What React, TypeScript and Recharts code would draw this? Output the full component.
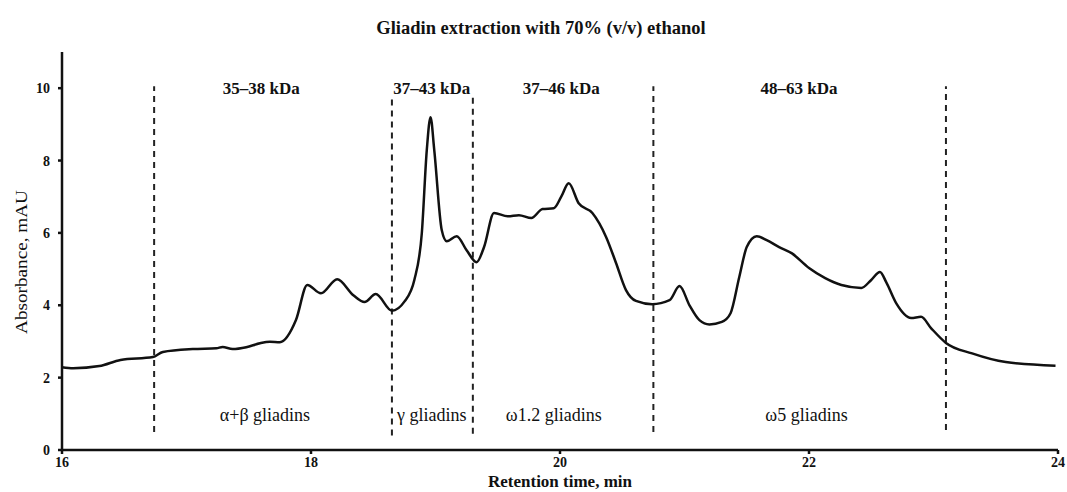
import { LineChart, Line, XAxis, YAxis, ReferenceLine, ReferenceDot } from 'recharts';

// retention time (min) and absorbance (mAU)
const times = [
  16.0, 16.09, 16.3, 16.47, 16.73, 16.81, 17.05, 17.24, 17.29, 17.37, 17.48, 17.59, 17.67, 17.75,
  17.88, 17.97, 18.08, 18.21, 18.34, 18.43, 18.52, 18.65, 18.75, 18.83, 18.89, 18.93, 18.96, 18.99,
  19.05, 19.09, 19.17, 19.25, 19.33, 19.39, 19.47, 19.58, 19.67, 19.77, 19.86, 19.95, 20.01, 20.07,
  20.15, 20.26, 20.37, 20.45, 20.53, 20.61, 20.74, 20.88, 20.96, 21.04, 21.12, 21.2, 21.3, 21.37,
  21.44, 21.5, 21.58, 21.66, 21.76, 21.86, 22.0, 22.13, 22.26, 22.42, 22.5, 22.57, 22.62, 22.7,
  22.82, 22.9, 22.98, 23.1, 23.31, 23.58, 23.98,
];
const absorbance = [
  2.29, 2.26, 2.32, 2.49, 2.57, 2.71, 2.79, 2.81, 2.85, 2.79, 2.84, 2.95, 2.99, 2.98,
  3.6, 4.56, 4.33, 4.72, 4.28, 4.09, 4.31, 3.85, 4.1, 4.7, 5.99, 8.29, 9.2, 8.29,
  6.08, 5.77, 5.91, 5.52, 5.19, 5.61, 6.55, 6.46, 6.49, 6.41, 6.66, 6.68, 7.0, 7.37,
  6.82, 6.55, 5.89, 5.17, 4.42, 4.12, 4.03, 4.14, 4.53, 4.0, 3.59, 3.47, 3.54, 3.78,
  4.78, 5.61, 5.91, 5.8, 5.61, 5.44, 5.03, 4.75, 4.56, 4.48, 4.7, 4.92, 4.64, 4.06,
  3.65, 3.68, 3.37, 2.96, 2.67, 2.43, 2.33,
];

const xTicks = [16, 18, 20, 22, 24];
const yTicks = [0, 2, 4, 6, 8, 10];

// fraction boundaries (dashed lines) and their vertical extent
const boundaries = [16.74, 18.65, 19.3, 20.75, 23.1];
const boundaryTop = [10.05, 9.75, 9.75, 10.05, 10.05];
const boundaryBottom = [0.5, 0.4, 0.45, 0.5, 0.55];

const massLabels = ['35–38 kDa', '37–43 kDa', '37–46 kDa', '48–63 kDa'];
const massX = [17.6, 18.97, 20.01, 21.92];
const fractionLabels = ['α+β gliadins', 'γ gliadins', 'ω1.2 gliadins', 'ω5 gliadins'];
const fractionX = [17.63, 18.97, 19.95, 21.98];

const data = times.map((t, i) => ({ t, a: absorbance[i] }));

const serif = '"Liberation Serif", "Times New Roman", serif';

// the figure fills the whole window
document.body.style.margin = '0';

export default function App() {
  return (
    <div style={{ position: 'relative', width: 1067, height: 492, fontFamily: serif, overflow: 'hidden' }}>
      <div
        style={{
          position: 'absolute',
          top: 17,
          left: 0,
          width: 1082,
          textAlign: 'center',
          fontWeight: 'bold',
          fontSize: 18.5,
          lineHeight: '22px',
          color: '#111',
        }}
      >
        Gliadin extraction with 70% (v/v) ethanol
      </div>
      <div
        style={{
          position: 'absolute',
          left: 22 - 80,
          top: 262 - 10,
          width: 160,
          height: 20,
          lineHeight: '20px',
          textAlign: 'center',
          transform: 'rotate(-90deg) scaleX(1.2)',
          fontSize: 16,
          color: '#111',
        }}
      >
        Absorbance, mAU
      </div>
      <div
        style={{
          position: 'absolute',
          left: 560 - 110,
          top: 473,
          width: 220,
          height: 18,
          lineHeight: '18px',
          textAlign: 'center',
          fontSize: 17,
          fontWeight: 'bold',
          color: '#111',
        }}
      >
        Retention time, min
      </div>
      <LineChart width={1067} height={492} data={data} margin={{ top: 52, right: 9, bottom: 0, left: 0 }}>
        <XAxis
          dataKey="t"
          type="number"
          domain={[16, 24]}
          ticks={xTicks}
          tickSize={4}
          tickMargin={3}
          stroke="#111"
          strokeWidth={2.5}
          tick={{ fill: '#111', fontSize: 14, fontWeight: 'bold', fontFamily: serif }}
          height={42}
        />
        <YAxis
          type="number"
          domain={[0, 11]}
          ticks={yTicks}
          width={62}
          tickSize={4}
          tickMargin={8}
          stroke="#111"
          strokeWidth={2.5}
          tick={{ fill: '#111', fontSize: 14, fontWeight: 'bold', fontFamily: serif }}
        />
        {boundaries.map((x, i) => (
          <ReferenceLine
            key={'b' + i}
            segment={[
              { x, y: boundaryBottom[i] },
              { x, y: boundaryTop[i] },
            ]}
            stroke="#222"
            strokeWidth={2}
            strokeDasharray="6 5"
          />
        ))}
        {massLabels.map((txt, i) => (
          <ReferenceDot
            key={'m' + i}
            x={massX[i]}
            y={10.0}
            r={0}
            fill="none"
            stroke="none"
            label={{ value: txt, position: 'center', fill: '#111', fontSize: 17, fontWeight: 'bold', fontFamily: serif }}
          />
        ))}
        {fractionLabels.map((txt, i) => (
          <ReferenceDot
            key={'f' + i}
            x={fractionX[i]}
            y={0.97}
            r={0}
            fill="none"
            stroke="none"
            label={{ value: txt, position: 'center', fill: '#111', fontSize: 18, fontFamily: serif }}
          />
        ))}
        <Line
          type="monotone"
          dataKey="a"
          stroke="#111"
          strokeWidth={2.5}
          dot={false}
          isAnimationActive={false}
        />
      </LineChart>
    </div>
  );
}
